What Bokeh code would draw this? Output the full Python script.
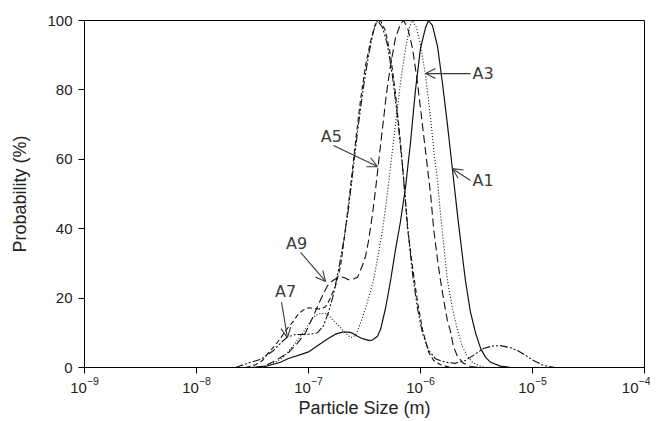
from bokeh.plotting import figure
from bokeh.models import Arrow, OpenHead, Label, FixedTicker
from bokeh.embed import file_html
from bokeh.resources import INLINE

# ---- data (size in m, probability in %) ----
a1_size = [3.03e-8, 4.13e-8, 5.62e-8, 6.62e-8, 8.49e-8, 1.00e-7, 1.23e-7, 1.51e-7, 1.74e-7, 2.01e-7,
           2.28e-7, 2.47e-7, 2.74e-7, 3.03e-7, 3.44e-7, 3.72e-7, 4.13e-7, 4.40e-7, 4.87e-7, 5.40e-7,
           5.98e-7, 6.62e-7, 7.35e-7, 8.15e-7, 9.02e-7, 1.00e-6, 1.11e-6, 1.18e-6, 1.28e-6, 1.42e-6,
           1.57e-6, 1.74e-6, 1.93e-6, 2.14e-6, 2.37e-6, 2.52e-6, 2.79e-6, 3.10e-6, 3.44e-6, 3.80e-6,
           4.22e-6, 5.18e-6, 6.37e-6]
a1_prob = [0, 0.3, 1.5, 2.6, 3.7, 4.5, 6.5, 8.4, 9.6, 10.2,
           10.2, 9.9, 9.0, 8.3, 7.8, 7.9, 9.0, 11, 17, 25,
           34, 42, 52, 65, 80, 92, 98, 100, 98.5, 92.5,
           82, 70, 57, 44, 32, 25, 16, 10, 5.5, 3,
           1.5, 0.4, 0]

a3_size = [3.37e-8, 4.13e-8, 5.07e-8, 5.98e-8, 7.19e-8, 8.49e-8, 1.00e-7, 1.15e-7, 1.28e-7, 1.48e-7,
           1.67e-7, 1.93e-7, 2.14e-7, 2.37e-7, 2.63e-7, 2.91e-7, 3.23e-7, 3.58e-7, 3.80e-7, 4.22e-7,
           4.58e-7, 4.97e-7, 5.40e-7, 5.98e-7, 6.62e-7, 7.35e-7, 7.98e-7, 8.49e-7, 9.20e-7, 1.00e-6,
           1.11e-6, 1.23e-6, 1.33e-6, 1.42e-6, 1.51e-6, 1.64e-6, 1.74e-6, 1.93e-6, 2.14e-6, 2.37e-6,
           2.63e-6, 2.91e-6, 3.30e-6, 3.80e-6]
a3_prob = [0, 0.5, 1.5, 3, 6, 9, 12.5, 15, 15.6, 15.5,
           13.5, 11.5, 10, 8.6, 9.2, 12.7, 17, 22, 25, 33,
           39.5, 48, 58, 70, 82, 92, 98, 100, 98, 93,
           84, 72, 61, 54, 44, 33, 25, 17, 10.7, 6,
           3.2, 1.5, 0.5, 0]

a5_size = [3.37e-8, 4.13e-8, 5.07e-8, 6.62e-8, 7.98e-8, 9.40e-8, 1.11e-7, 1.33e-7, 1.48e-7, 1.64e-7,
           1.85e-7, 2.05e-7, 2.28e-7, 2.52e-7, 2.74e-7, 3.03e-7, 3.23e-7, 3.44e-7, 3.72e-7, 3.96e-7,
           4.22e-7, 4.58e-7, 4.97e-7, 5.40e-7, 5.98e-7, 6.62e-7, 7.05e-7, 7.66e-7, 8.49e-7, 9.40e-7,
           1.04e-6, 1.15e-6, 1.23e-6, 1.31e-6, 1.42e-6, 1.51e-6, 1.64e-6, 1.74e-6, 1.85e-6, 1.97e-6,
           2.14e-6, 2.42e-6, 2.79e-6, 3.30e-6]
a5_prob = [0, 0.5, 2, 4.3, 7, 10, 15, 20.7, 23.6, 25,
           26, 26, 25.3, 25.5, 26, 29.4, 32, 36.6, 44, 51,
           59, 69, 79, 87, 95, 99, 100, 98, 92, 82,
           70, 58, 50, 40, 31, 25, 18, 13.5, 10.5, 6,
           3.2, 1.2, 0.3, 0]

a7_size = [2.23e-8, 2.47e-8, 3.03e-8, 3.72e-8, 4.87e-8, 5.62e-8, 6.49e-8, 7.66e-8, 9.02e-8, 1.04e-7,
           1.20e-7, 1.36e-7, 1.51e-7, 1.67e-7, 1.85e-7, 2.05e-7, 2.28e-7, 2.52e-7, 2.79e-7, 3.10e-7,
           3.44e-7, 3.80e-7, 4.13e-7, 4.58e-7, 5.07e-7, 5.62e-7, 6.24e-7, 6.90e-7, 7.66e-7, 8.49e-7,
           9.40e-7, 1.04e-6, 1.18e-6, 1.36e-6, 1.67e-6, 2.05e-6, 2.52e-6, 2.97e-6, 3.65e-6, 4.40e-6,
           5.18e-6, 6.37e-6, 7.35e-6, 8.66e-6, 1.02e-5, 1.25e-5, 1.60e-5]
a7_prob = [0, 0.5, 1.5, 2.3, 4.9, 7, 8.8, 9.5, 9.5, 9.6,
           10, 12, 16, 21, 28, 36, 46, 58, 70, 81,
           90, 97, 100, 98, 93, 84, 72, 58, 41, 27,
           17, 10, 5, 2.5, 1.5, 1.2, 2, 3.5, 5.5, 6.2,
           6.3, 5.7, 4.9, 3.5, 2, 0.6, 0]

a9_size = [2.74e-8, 3.37e-8, 3.88e-8, 4.40e-8, 5.07e-8, 5.62e-8, 6.37e-8, 7.19e-8, 8.15e-8, 9.02e-8,
           1.00e-7, 1.15e-7, 1.28e-7, 1.42e-7, 1.57e-7, 1.74e-7, 1.93e-7, 2.14e-7, 2.37e-7, 2.63e-7,
           2.91e-7, 3.23e-7, 3.58e-7, 3.96e-7, 4.40e-7, 4.87e-7, 5.40e-7, 5.98e-7, 6.62e-7, 7.05e-7,
           7.66e-7, 8.49e-7, 9.40e-7, 1.04e-6, 1.18e-6, 1.31e-6, 1.51e-6, 1.85e-6]
a9_prob = [0, 0.8, 2, 4.3, 6.5, 8.4, 11, 13, 15.5, 16.6,
           17.2, 17, 16.8, 17.5, 20, 23.5, 29, 40, 52, 65,
           77, 87, 94, 99, 100, 97, 90, 79, 65, 55,
           40, 29, 19, 11, 4.5, 2, 0.8, 0]

x_ticks = [1e-9, 1e-8, 1e-7, 1e-6, 1e-5, 1e-4]
y_ticks = [0, 20, 40, 60, 80, 100]

INK = "#111111"
TXT = "#3a3a3a"

p = figure(width=650, height=421, x_axis_type="log",
           x_range=(1e-9, 1e-4), y_range=(0, 100),
           output_backend="svg", toolbar_location=None,
           min_border_left=84, min_border_right=6,
           min_border_top=20, min_border_bottom=54)

p.background_fill_color = "white"
p.border_fill_color = "white"
p.outline_line_color = "black"
p.outline_line_width = 1
p.xgrid.visible = False
p.ygrid.visible = False

p.line(a1_size, a1_prob, line_color=INK, line_width=1.2)
p.line(a3_size, a3_prob, line_color=INK, line_width=1.1, line_dash="1 2")
p.line(a5_size, a5_prob, line_color=INK, line_width=1.1, line_dash="8 4")
p.line(a9_size, a9_prob, line_color=INK, line_width=1.1, line_dash="5 3")
p.line(a7_size, a7_prob, line_color=INK, line_width=1.1, line_dash="8 2 2 2 2 2")

for ax in (p.xaxis[0], p.yaxis[0]):
    ax.axis_line_color = "black"
    ax.major_tick_line_color = "black"
    ax.major_tick_out = 6
    ax.major_tick_in = 0
    ax.minor_tick_line_color = None
    ax.major_label_text_font = "Liberation Sans"
    ax.major_label_text_font_size = "15px"
    ax.major_label_text_color = "#222222"
    ax.axis_label_text_font = "Liberation Sans"
    ax.axis_label_text_font_size = "18px"
    ax.axis_label_text_font_style = "normal"
    ax.axis_label_text_color = "#222222"

p.xaxis.ticker = FixedTicker(ticks=x_ticks)
p.yaxis.ticker = FixedTicker(ticks=y_ticks)
p.xaxis.axis_label = "Particle Size (m)"
p.yaxis.axis_label = "Probability (%)"
p.xaxis.major_label_standoff = 3
p.xaxis.axis_label_standoff = 2
p.yaxis.major_label_standoff = 6
p.yaxis.axis_label_standoff = 14

# annotations: label position, arrow tail and arrow tip (data coordinates)
notes = [
    ("A1", 2.91e-6, 53.9, "left", 2.79e-6, 53.9, 1.93e-6, 57.3),
    ("A3", 2.91e-6, 84.7, "left", 2.79e-6, 84.7, 1.11e-6, 84.7),
    ("A5", 1.60e-7, 66.6, "center", 1.67e-7, 64.0, 4.13e-7, 57.9),
    ("A9", 7.82e-8, 35.7, "center", 8.49e-8, 33.2, 1.42e-7, 24.8),
    ("A7", 6.24e-8, 21.9, "center", 5.74e-8, 18.8, 6.49e-8, 8.6),
]
for txt, lx, ly, al, x0, y0, x1, y1 in notes:
    p.add_layout(Label(x=lx, y=ly, text=txt, text_font="DejaVu Sans",
                       text_font_size="16px", text_color=TXT,
                       text_align=al, text_baseline="middle"))
    p.add_layout(Arrow(end=OpenHead(size=10, line_color=TXT, line_width=1.1),
                       x_start=x0, y_start=y0, x_end=x1, y_end=y1,
                       line_color=TXT, line_width=1.1))

open("out.html", "w").write(file_html(p, INLINE))
